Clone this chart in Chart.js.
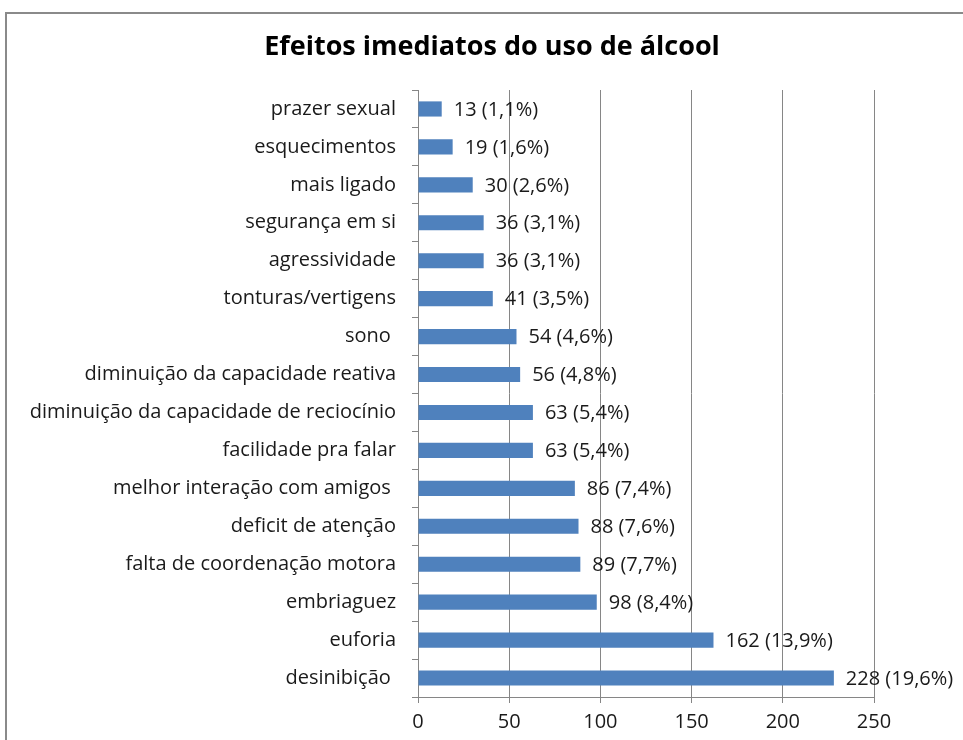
<!DOCTYPE html>
<html>
<head>
<meta charset="utf-8">
<script src="https://cdn.jsdelivr.net/npm/chart.js@4.4.1/dist/chart.umd.min.js"></script>
<style>
  html, body { margin: 0; padding: 0; background: #fff; overflow: hidden; }
  #frame { position: absolute; left: 5px; top: 12px; width: 1200px; height: 1000px;
           border-left: 2px solid #8a8a8a; border-top: 2px solid #8a8a8a; }
  #wrap { position: absolute; left: 0; top: 0; width: 963px; height: 740px; }
</style>
</head>
<body>
<div id="frame"></div>
<div id="wrap"><canvas id="chart" width="963" height="740"></canvas></div>
<script>
// categories, top to bottom as in the picture
const efeitos = [
  'prazer sexual', 'esquecimentos', 'mais ligado', 'segurança em si', 'agressividade',
  'tonturas/vertigens', 'sono ', 'diminuição da capacidade reativa',
  'diminuição da capacidade de reciocínio', 'facilidade pra falar',
  'melhor interação com amigos ', 'deficit de atenção', 'falta de coordenação motora',
  'embriaguez', 'euforia', 'desinibição '
];
const respostas = [13, 19, 30, 36, 36, 41, 54, 56, 63, 63, 86, 88, 89, 98, 162, 228];
const percentuais = ['1,1%', '1,6%', '2,6%', '3,1%', '3,1%', '3,5%', '4,6%', '4,8%',
  '5,4%', '5,4%', '7,4%', '7,6%', '7,7%', '8,4%', '13,9%', '19,6%'];
const xTicks = [0, 50, 100, 150, 200, 250];
const titulo = 'Efeitos imediatos do uso de álcool';

const FONT = '"Open Sans", "Noto Sans", sans-serif';

// writes "n (p%)" just after the end of each bar, and the title
const valueLabels = {
  id: 'valueLabels',
  afterDatasetsDraw(chart) {
    const ctx = chart.ctx;
    const meta = chart.getDatasetMeta(0);
    ctx.save();
    ctx.font = '20px ' + FONT;
    ctx.fillStyle = '#1a1a1a';
    ctx.textAlign = 'left';
    ctx.textBaseline = 'middle';
    meta.data.forEach((bar, i) => {
      ctx.fillText(respostas[i] + ' (' + percentuais[i] + ')', bar.x + 12, bar.y + 1);
    });
    ctx.font = 'bold 27px ' + FONT;
    ctx.fillStyle = '#000';
    ctx.textAlign = 'center';
    ctx.fillText(titulo, 492, 47);
    ctx.restore();
  }
};

new Chart(document.getElementById('chart'), {
  type: 'bar',
  data: {
    labels: efeitos,
    datasets: [{
      data: respostas,
      backgroundColor: '#4f81bd',
      borderWidth: 0,
      barPercentage: 0.8,
      categoryPercentage: 0.5
    }]
  },
  options: {
    indexAxis: 'y',
    responsive: false,
    animation: false,
    layout: { padding: { top: 90, right: 89, left: 0, bottom: 0 } },
    plugins: {
      legend: { display: false },
      tooltip: { enabled: false },
      title: { display: false }
    },
    scales: {
      x: {
        min: xTicks[0],
        max: xTicks[xTicks.length - 1],
        afterBuildTicks(axis) { axis.ticks = xTicks.map(v => ({ value: v })); },
        afterFit(axis) { axis.height = 43; },
        grid: { color: '#868686', lineWidth: 1, tickLength: 6, drawTicks: true },
        border: { color: '#868686' },
        ticks: { color: '#1a1a1a', font: { family: FONT, size: 20 }, padding: 7 }
      },
      y: {
        afterFit(axis) { axis.width = 418; },
        grid: { drawOnChartArea: false, tickLength: 6, color: '#868686', offset: true },
        border: { color: '#868686' },
        ticks: { color: '#1a1a1a', font: { family: FONT, size: 20 }, padding: 16, autoSkip: false }
      }
    }
  },
  plugins: [valueLabels]
});
</script>
</body>
</html>
